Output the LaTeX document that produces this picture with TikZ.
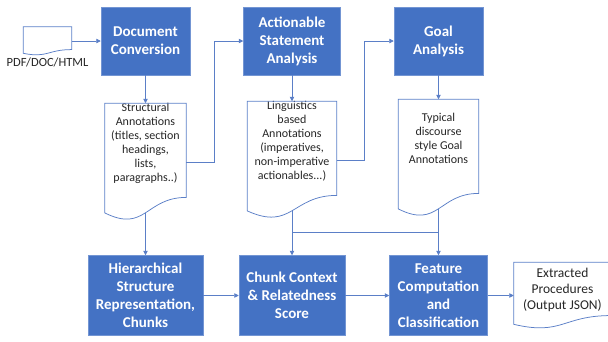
\documentclass[tikz,border=0pt]{standalone}
\usepackage{fontspec}
\setmainfont{Carlito}
\usetikzlibrary{arrows.meta, positioning, calc}

\definecolor{boxblue}{HTML}{4472C4}
\definecolor{lineblue}{HTML}{5B7FC7}

\begin{document}
\begin{tikzpicture}[
        >={Triangle[length=4.5pt,width=4.5pt]},
        box/.style={rectangle, fill=boxblue, draw=boxblue!75!white, line width=0.5pt, align=center, text=white,
                    font=\bfseries\fontsize{15}{18}\selectfont, inner sep=0pt, minimum height=68pt},
        doc/.style={rectangle, inner sep=0pt},
        doctext/.style={anchor=north, align=center, inner sep=0pt, font=\fontsize{12}{14}\selectfont, text=black!85},
        docline/.style={draw=lineblue, line width=0.75pt},
        line/.style={->, draw=lineblue, line width=0.75pt}
    ]
        \useasboundingbox (0,0) rectangle (608pt,-341pt);

        % top row
        \node[box, minimum width=89pt] (conv) at (145.5pt,-41pt) {Document\\Conversion};
        \node[box, minimum width=97pt, right=53pt of conv] (act) {Actionable\\Statement\\Analysis};
        \node[box, minimum width=89pt, right=53pt of act] (goal) {Goal\\Analysis};

        % documents
        \node[doc, minimum width=48pt, minimum height=28pt, left=29pt of conv,
              label={[doctext, name=src-txt, yshift=-2pt, font=\fontsize{12.5}{15}\selectfont]south:PDF/DOC/HTML}] (src) {};
        \node[doc, minimum width=81pt, minimum height=117pt, below=28pt of conv,
              label={[doctext, name=struct-txt]north:{Structural\\Annotations\\(titles, section\\headings,\\lists,\\paragraphs..)}}] (struct) {};
        \node[doc, minimum width=89pt, minimum height=117pt, below=26pt of act,
              label={[doctext, name=ling-txt]north:{Linguistics\\based\\Annotations\\(imperatives,\\non-imperative\\actionables...)}}] (ling) {};
        \node[doc, minimum width=80pt, minimum height=117pt, below=24pt of goal,
              label={[doctext, name=typ-txt, yshift=-14pt]north:{Typical\\discourse\\style Goal\\Annotations}}] (typ) {};

        % bottom row
        \node[box, minimum width=115pt, minimum height=80pt, below=180pt of conv] (hier) {Hierarchical\\Structure\\Representation,\\Chunks};
        \node[box, minimum width=106pt, minimum height=80pt, below=180pt of act] (chunk) {Chunk Context\\\& Relatedness\\Score};
        \node[box, minimum width=98pt, minimum height=80pt, below=180pt of goal] (feat) {Feature\\Computation\\and\\Classification};
        \node[doc, minimum width=97pt, minimum height=66pt, right=26pt of feat,
              label={[doctext, name=out-txt, yshift=-5.5pt, font=\fontsize{13.5}{16}\selectfont]north:{Extracted\\Procedures\\(Output JSON)}}] (out) {};

        % document outlines with wavy bottom
        \foreach \d in {src,struct,ling,typ,out}
            \draw[docline] (\d.north west) -- (\d.north east) -- ($(\d.north east)!0.802!(\d.south east)$)
                .. controls ($(\d.north)!0.802!(\d.south)$) and ($(\d.north)!1.107!(\d.south)$) .. ($(\d.north west)!0.934!(\d.south west)$) -- cycle;

        \draw[line] (src) -- (conv);
        \draw[line] (conv) -- (struct);
        \draw[line] (struct.east) -- ++(28pt,0) |- (act.west);
        \draw[line] (act) -- (ling);
        \draw[line] (ling.east) -- ++(28pt,0) |- (goal.west);
        \draw[line] (goal) -- (typ);

        \draw[line] ([yshift=7.8pt]struct.south) -- (hier);
        \draw[line] ([yshift=7.8pt]ling.south) -- (chunk);
        \draw[line] ([yshift=7.8pt]typ.south) -- (feat);
        \coordinate (join) at ($(ling.south)!0.38!(chunk.north)$);
        \draw[docline] (join) -- (join -| feat.north);

        \draw[line] (hier) -- (chunk);
        \draw[line] (chunk) -- (feat);
        \draw[line] (feat) -- (out);
    \end{tikzpicture}
\end{document}
